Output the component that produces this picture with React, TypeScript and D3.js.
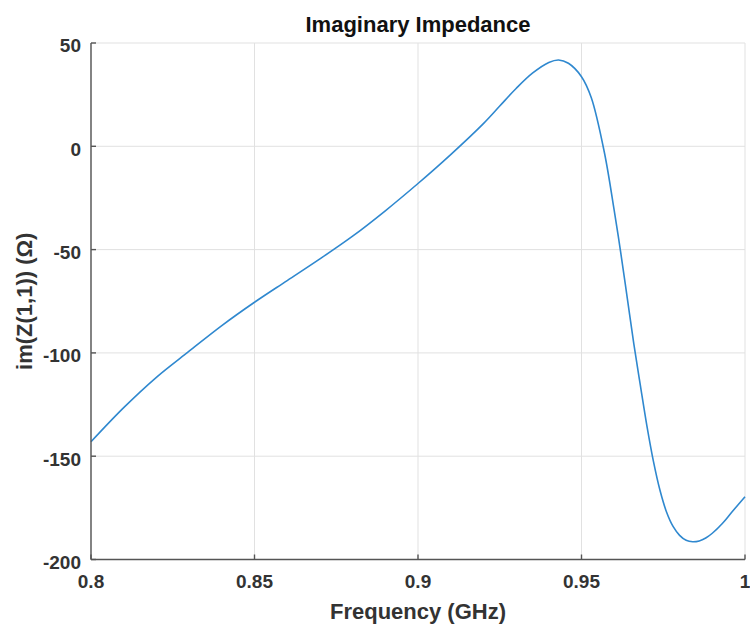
import React from "react";
import * as d3 from "d3";

// Frequency sweep (GHz) and imaginary part of Z(1,1) (ohms)
const freqGHz = [
  0.8, 0.81, 0.82, 0.83, 0.84, 0.85, 0.86, 0.87, 0.88, 0.89, 0.9, 0.91, 0.92,
  0.925, 0.93, 0.935, 0.94, 0.943, 0.946, 0.95, 0.953, 0.957, 0.96, 0.962,
  0.964, 0.966, 0.968, 0.97, 0.972, 0.974, 0.976, 0.978, 0.98, 0.982, 0.984,
  0.986, 0.988, 0.99, 0.993, 0.996, 1.0,
];
const imagZ = [
  -143, -126.5, -111.8, -99.2, -86.8, -75.5, -65, -54.5, -43.5, -31.2, -18, -4,
  11, 19.5, 28, 35.4, 40.6, 41.8, 40.2, 33.7, 23.5, -3, -31, -51.5, -73.5, -95.6,
  -115.7, -135.3, -152.5, -166.5, -177, -184, -188.3, -190.7, -191.4, -191,
  -189.6, -187.3, -182.7, -177, -169.6,
];

const xTicks = [0.8, 0.85, 0.9, 0.95, 1];
const xTickLabels = ["0.8", "0.85", "0.9", "0.95", "1"];
const yTicks = [-200, -150, -100, -50, 0, 50];
const yTickLabels = ["-200", "-150", "-100", "-50", "0", "50"];

const titleText = "Imaginary Impedance";
const xLabelText = "Frequency (GHz)";
const yLabelText = "im(Z(1,1)) (\u03A9)";

const W = 750;
const H = 624;
const margin = { left: 91, right: 5, top: 43, bottom: 64.5 };
const FONT = "'Liberation Sans', Arial, Helvetica, sans-serif";

export default function App() {
  const x = d3
    .scaleLinear()
    .domain([0.8, 1])
    .range([margin.left, W - margin.right]);
  const y = d3
    .scaleLinear()
    .domain([-200, 50])
    .range([H - margin.bottom, margin.top]);

  const pts: [number, number][] = freqGHz.map((f, i) => [f, imagZ[i]]);
  const line = d3
    .line<[number, number]>()
    .x((d) => x(d[0]))
    .y((d) => y(d[1]))
    .curve(d3.curveCatmullRom.alpha(0.5));

  const x0 = x(0.8);
  const x1 = x(1);
  const y0 = y(-200);
  const y1 = y(50);

  return (
    <div style={{ position: "absolute", left: 0, top: 0 }}>
      <svg width={W} height={H} style={{ display: "block", background: "#fff" }}>
        {/* grid */}
        <g stroke="#e1e1e1" strokeWidth={1}>
          {xTicks.map((t) => (
            <line key={"gx" + t} x1={x(t)} x2={x(t)} y1={y0} y2={y1} />
          ))}
          {yTicks.map((t) => (
            <line key={"gy" + t} x1={x0} x2={x1} y1={y(t)} y2={y(t)} />
          ))}
        </g>

        {/* data curve */}
        <path
          d={line(pts) || ""}
          fill="none"
          stroke="#2f88cf"
          strokeWidth={1.6}
        />

        {/* axes */}
        <g stroke="#555" strokeWidth={1.4} fill="none">
          <line x1={x0} x2={x1} y1={y0} y2={y0} />
          <line x1={x0} x2={x0} y1={y0} y2={y1} />
          {xTicks.map((t) => (
            <line key={"tx" + t} x1={x(t)} x2={x(t)} y1={y0} y2={y0 - 5} />
          ))}
          {yTicks.map((t) => (
            <line key={"ty" + t} x1={x0} x2={x0 + 5} y1={y(t)} y2={y(t)} />
          ))}
        </g>

        {/* tick labels */}
        <g fontFamily={FONT} fontWeight="bold" fontSize={19} fill="#333">
          {xTicks.map((t, i) => (
            <text key={"lx" + t} x={x(t)} y={y0 + 28.5} textAnchor="middle">
              {xTickLabels[i]}
            </text>
          ))}
          {yTicks.map((t, i) => (
            <text key={"ly" + t} x={x0 - 10} y={y(t) + 9.3} textAnchor="end">
              {yTickLabels[i]}
            </text>
          ))}
        </g>

        {/* title and axis labels */}
        <text
          x={(x0 + x1) / 2}
          y={32}
          textAnchor="middle"
          fontFamily={FONT}
          fontWeight="bold"
          fontSize={22}
          fill="#111"
        >
          {titleText}
        </text>
        <text
          x={(x0 + x1) / 2}
          y={619}
          textAnchor="middle"
          fontFamily={FONT}
          fontWeight="bold"
          fontSize={22}
          fill="#333"
        >
          {xLabelText}
        </text>
        <text
          transform={`translate(31.5, ${(y0 + y1) / 2}) rotate(-90)`}
          textAnchor="middle"
          fontFamily={FONT}
          fontWeight="bold"
          fontSize={22}
          fill="#333"
        >
          {yLabelText}
        </text>
      </svg>
    </div>
  );
}
